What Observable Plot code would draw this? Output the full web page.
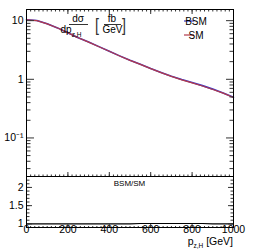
<!DOCTYPE html>
<html><head><meta charset="utf-8">
<script src="https://cdn.jsdelivr.net/npm/d3@7"></script>
<script src="https://cdn.jsdelivr.net/npm/@observablehq/plot@0.6"></script>
<style>
body{margin:0;background:#fff;}
#c{position:relative;width:259px;height:252px;overflow:hidden;background:#fff;}
#c svg{position:absolute;left:0;}
</style></head><body><div id="c"></div>
<script>
// ---- data ----
const pz  = [0, 50, 100, 150, 200, 250, 300, 350, 400, 450, 500, 550, 600, 650, 700, 750, 800, 850, 900, 950, 1000];
const sm  = [10.3, 10.0, 8.8, 7.5, 6.2, 5.1, 4.3, 3.6, 3.0, 2.5, 2.1, 1.8, 1.52, 1.3, 1.12, 0.98, 0.87, 0.77, 0.67, 0.58, 0.49];
const bsm = [10.35, 10.05, 8.85, 7.53, 6.22, 5.12, 4.32, 3.61, 3.01, 2.51, 2.11, 1.81, 1.53, 1.31, 1.13, 0.99, 0.88, 0.78, 0.68, 0.585, 0.495];
const ratio = [1.0, 1.0, 1.0, 1.0, 1.0, 1.0, 1.0, 1.0, 1.0, 1.0, 1.0, 1.01, 1.01, 1.01, 1.01, 1.01, 1.01, 1.01, 1.0, 1.0, 1.0];
const seriesNames = ["BSM", "SM"];
const seriesColors = ["#3a3acb", "#b23a4a"];
const xMajor = [0, 200, 400, 600, 800, 1000];
const xMinor = d3.range(0, 1001, 20);
const yMainMajor = [0.1, 1, 10];
const yMainMinor = [0.03,0.04,0.05,0.06,0.07,0.08,0.09,0.2,0.3,0.4,0.5,0.6,0.7,0.8,0.9,2,3,4,5,6,7,8,9];
const yRatioMajor = [1, 1.5, 2];
const yRatioMinor = d3.range(0.9, 2.31, 0.1);
const yTitle = {num: "dσ", den: "dp", sub: "z,H", unitNum: "fb", unitDen: "GeV"};
const xTitle = {main: "p", sub: "z,H", unit: " [GeV]"};
const ratioTitle = "BSM/SM";

const rows = [];
pz.forEach((p, i) => rows.push({pz: p, v: bsm[i], s: seriesNames[0]}));
pz.forEach((p, i) => rows.push({pz: p, v: sm[i], s: seriesNames[1]}));
const ratioRows = pz.map((p, i) => ({pz: p, r: ratio[i]}));

const FONT = "'Liberation Sans', Arial, Helvetica, sans-serif";
const W = 259, ML = 26, MR = 26;
const fmtLog = d => d === 10 ? "10" : d === 1 ? "1" : "10⁻¹";

// inward ticks: draw tick shape pointing into the frame from each edge
const TICK = "#333";
const inY = (ticks, side, len) => Plot.axisY(ticks, {anchor: side === "left" ? "right" : "left", frameAnchor: side, tickSize: len, fill: "none", stroke: TICK, label: null});
const inX = (ticks, side, len) => Plot.axisX(ticks, {anchor: side === "top" ? "bottom" : "top", frameAnchor: side, tickSize: len, fill: "none", stroke: TICK, label: null});

const main = Plot.plot({
  width: W, height: 176, marginTop: 9, marginBottom: 0, marginLeft: ML, marginRight: MR,
  style: {fontFamily: FONT, fontSize: "10.5px", color: "black", background: "white", overflow: "visible"},
  x: {domain: [0, 1000], label: null},
  y: {type: "log", domain: [0.022, 15.5], label: null},
  color: {domain: seriesNames, range: seriesColors},
  marks: [
    Plot.line(rows.filter(d => d.s === "BSM"), {x: "pz", y: "v", stroke: "s", strokeWidth: 1.6}),
    Plot.line(rows.filter(d => d.s === "SM"), {x: "pz", y: "v", stroke: "s", strokeWidth: 1.2}),
    Plot.axisY(yMainMajor, {anchor: "left", tickSize: 0, tickPadding: 3, tickFormat: fmtLog, label: null}),
    inY(yMainMajor, "left", 7), inY(yMainMinor, "left", 3.5),
    inY(yMainMajor, "right", 7), inY(yMainMinor, "right", 3.5),
    inX(xMajor, "top", 5), inX(xMinor, "top", 2.5),
    inX(xMajor, "bottom", 5), inX(xMinor, "bottom", 2.5),
    Plot.frame({stroke: "black"})
  ]
});

const rat = Plot.plot({
  width: W, height: 76, marginTop: 0, marginBottom: 25, marginLeft: ML, marginRight: MR,
  style: {fontFamily: FONT, fontSize: "10.5px", color: "black", background: "white", overflow: "visible"},
  x: {domain: [0, 1000], label: null},
  y: {domain: [0.9, 2.3], label: null},
  marks: [
    Plot.line(ratioRows, {x: "pz", y: "r", stroke: "black", strokeWidth: 1.2}),
    Plot.axisY(yRatioMajor, {anchor: "left", tickSize: 0, tickPadding: 3, tickFormat: d => String(d), label: null}),
    inY(yRatioMajor, "left", 5), inY(yRatioMinor, "left", 2.5),
    inY(yRatioMajor, "right", 5), inY(yRatioMinor, "right", 2.5),
    Plot.axisX(xMajor, {anchor: "bottom", tickSize: 0, tickPadding: -2, tickFormat: d => String(d), label: null}),
    inX(xMajor, "bottom", 4), inX(xMinor, "bottom", 2),
    Plot.frame({stroke: "black"})
  ]
});

const c = document.getElementById("c");
main.style.top = "0px";
rat.style.top = "176px";
c.appendChild(main);
c.appendChild(rat);

// ---- annotations (text) ----
const gm = d3.select(main).append("g").attr("font-family", FONT).attr("fill", "black");
gm.append("text").attr("x", 78).attr("y", 21.5).attr("text-anchor", "middle").attr("font-size", 10).text(yTitle.num);
gm.append("line").attr("x1", 69).attr("x2", 88).attr("y1", 24.5).attr("y2", 24.5).attr("stroke", "black").attr("stroke-width", 0.8);
const den = gm.append("text").attr("x", 71).attr("y", 32.5).attr("font-size", 10);
den.append("tspan").text(yTitle.den);
den.append("tspan").attr("font-size", 6.5).attr("dy", 4).text(yTitle.sub);
gm.append("text").attr("x", 97).attr("y", 31).attr("font-size", 19).attr("fill", "#333").attr("transform", "translate(97,0) scale(0.75,1) translate(-97,0)").text("[");
gm.append("text").attr("x", 112).attr("y", 21.5).attr("text-anchor", "middle").attr("font-size", 10).text(yTitle.unitNum);
gm.append("line").attr("x1", 104).attr("x2", 121).attr("y1", 24.5).attr("y2", 24.5).attr("stroke", "black").attr("stroke-width", 0.8);
gm.append("text").attr("x", 112.5).attr("y", 32.5).attr("text-anchor", "middle").attr("font-size", 10).text(yTitle.unitDen);
gm.append("text").attr("x", 124).attr("y", 31).attr("font-size", 19).attr("fill", "#333").attr("transform", "translate(124,0) scale(0.75,1) translate(-124,0)").text("]");
// legend
seriesNames.forEach((n, i) => {
  const y = 21 + i * 14;
  gm.append("line").attr("x1", 184).attr("x2", 194).attr("y1", y).attr("y2", y).attr("stroke", seriesColors[i]).attr("stroke-width", 1.2);
  gm.append("text").attr("x", 196).attr("y", y + 3.5).attr("font-size", 10).text(n);
});

const gr = d3.select(rat).append("g").attr("font-family", FONT).attr("fill", "black");
gr.append("text").attr("x", 129.5).attr("y", 10).attr("text-anchor", "middle").attr("font-size", 8).text(ratioTitle);
const xt = gr.append("text").attr("x", 233).attr("y", 68.5).attr("text-anchor", "end").attr("font-size", 10.5);
xt.append("tspan").text(xTitle.main);
xt.append("tspan").attr("font-size", 6.5).attr("dy", 3).text(xTitle.sub);
xt.append("tspan").attr("dy", -3).text(xTitle.unit);
</script>
</body></html>
